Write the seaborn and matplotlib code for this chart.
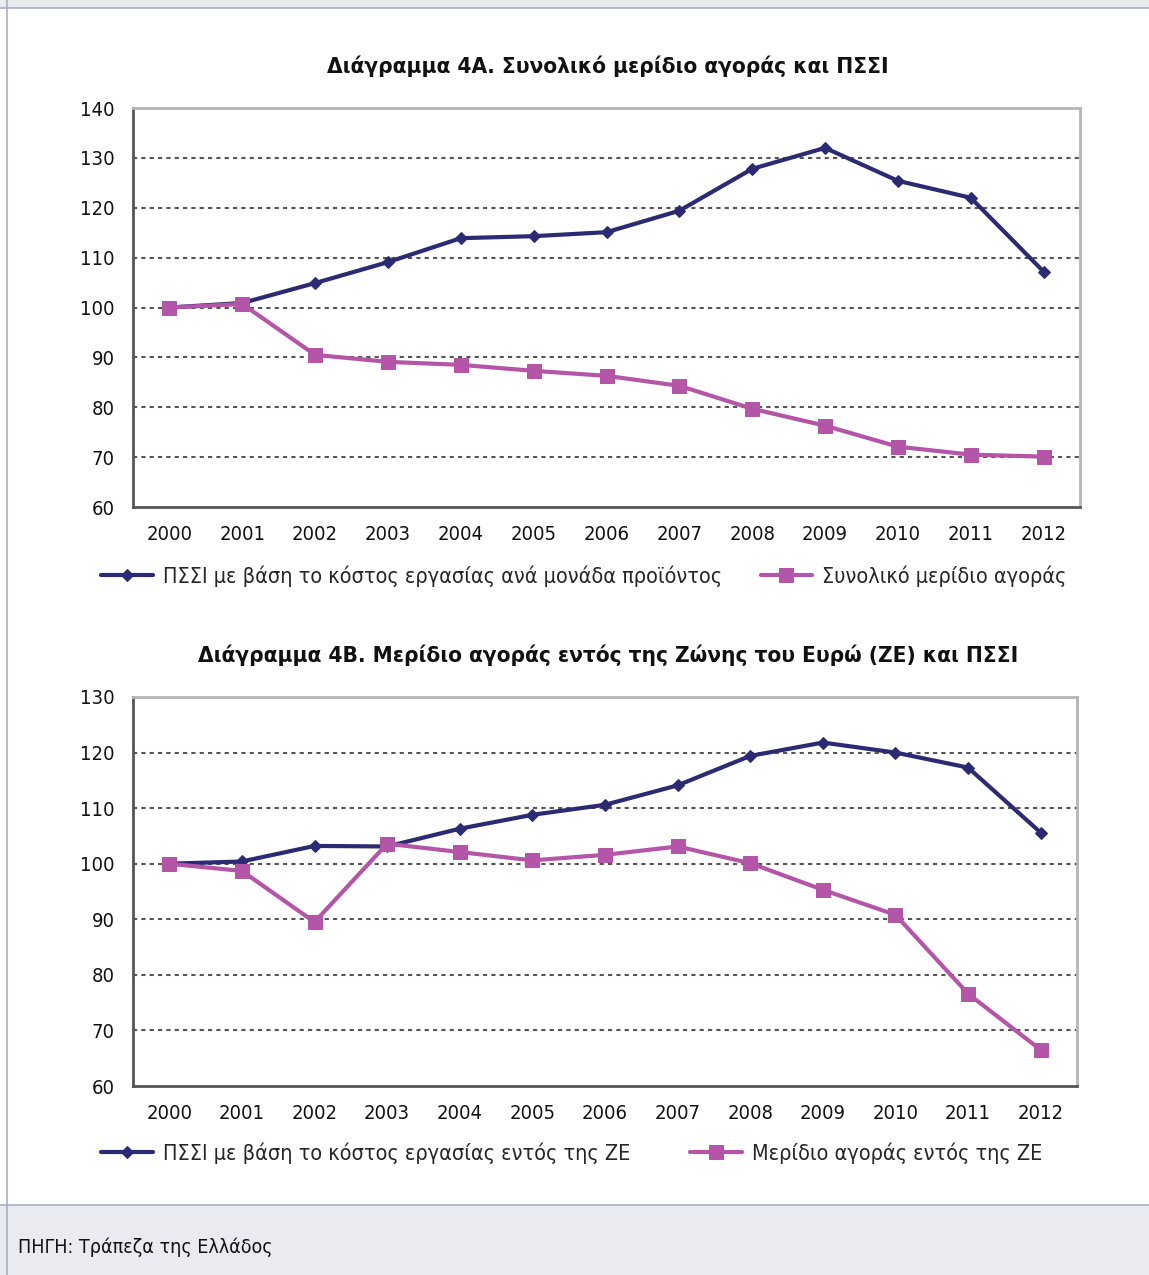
import numpy as np
import pandas as pd
import matplotlib.pyplot as plt
import seaborn as sns
from matplotlib.patches import Rectangle
from matplotlib.lines import Line2D

years = [str(y) for y in range(2000, 2013)]

# Διάγραμμα 4Α
pssi_total = [100, 100.9, 104.9, 109.1, 113.9, 114.3, 115.1, 119.4, 127.8, 132.0, 125.4, 122.0, 107.2]
share_total = [100, 100.7, 90.5, 89.1, 88.5, 87.3, 86.3, 84.3, 79.7, 76.3, 72.1, 70.5, 70.1]

# Διάγραμμα 4Β
pssi_ez = [100, 100.4, 103.2, 103.1, 106.3, 108.8, 110.6, 114.1, 119.4, 121.8, 120.0, 117.3, 105.6]
share_ez = [100, 98.7, 89.5, 103.6, 102.1, 100.6, 101.6, 103.1, 100.1, 95.3, 90.8, 76.6, 66.5]

title_a = "Διάγραμμα 4Α. Συνολικό μερίδιο αγοράς και ΠΣΣΙ"
title_b = "Διάγραμμα 4Β. Μερίδιο αγοράς εντός της Ζώνης του Ευρώ (ΖΕ) και ΠΣΣΙ"
labels_a = ["ΠΣΣΙ με βάση το κόστος εργασίας ανά μονάδα προϊόντος", "Συνολικό μερίδιο αγοράς"]
labels_b = ["ΠΣΣΙ με βάση το κόστος εργασίας εντός της ΖΕ", "Μερίδιο αγοράς εντός της ΖΕ"]
source = "ΠΗΓΗ: Τράπεζα της Ελλάδος"

sns.set_theme(style="white")
plt.rcParams['font.family'] = ['DejaVu Sans']
plt.rcParams['font.stretch'] = 'condensed'

NAVY = "#2b2a72"
PINK = "#b455a8"
W, H = 1149, 1275

fig = plt.figure(figsize=(W / 100, H / 100), dpi=100)
fig.patch.set_facecolor("white")

# frame decorations (top strip, left border, footer)
fig.patches.append(Rectangle((0, 1 - 8 / H), 1, 8 / H, transform=fig.transFigure,
                             facecolor="#e9ebf0", edgecolor="none", zorder=0))
fig.lines.append(Line2D([0, 1], [1 - 8 / H, 1 - 8 / H], transform=fig.transFigure,
                        color="#a7b1c2", lw=1.2))
fig.patches.append(Rectangle((0, 0), 1, 70 / H, transform=fig.transFigure,
                             facecolor="#e9ebf0", edgecolor="none", zorder=0))
fig.lines.append(Line2D([0, 1], [70 / H, 70 / H], transform=fig.transFigure,
                        color="#a7b1c2", lw=1.2))
fig.lines.append(Line2D([7 / W, 7 / W], [0, 1], transform=fig.transFigure,
                        color="#a7b1c2", lw=1.2))


def panel(rect, a, b, labels, ylim, title, title_y, legend_y, colspace):
    left, top, right, bottom = rect
    ax = fig.add_axes([left / W, 1 - bottom / H, (right - left) / W, (bottom - top) / H])
    df = pd.DataFrame({"x": np.arange(len(years)), "a": a, "b": b})
    sns.lineplot(data=df, x="x", y="a", ax=ax, color=NAVY, lw=3, marker="D",
                 markersize=6, markeredgecolor=NAVY, label=labels[0])
    sns.lineplot(data=df, x="x", y="b", ax=ax, color=PINK, lw=3, marker="s",
                 markersize=10, markeredgecolor=PINK, label=labels[1])
    ax.set_xlim(-0.5, len(years) - 0.5)
    ax.set_ylim(*ylim)
    ax.set_yticks(np.arange(ylim[0], ylim[1] + 1, 10))
    ax.set_xticks(np.arange(len(years)))
    ax.set_xticklabels(years)
    ax.set_xticks(np.arange(len(years) + 1) - 0.5, minor=True)
    ax.tick_params(axis="x", which="major", length=0, pad=13, labelsize=14.5, labelcolor="#111111")
    ax.tick_params(axis="x", which="minor", length=7, width=1.5, color="#555555", direction="out")
    ax.tick_params(axis="y", which="major", length=7, width=1.5, color="#555555",
                   direction="out", labelsize=14.5, labelcolor="#111111", pad=6)
    ax.set_xlabel("")
    ax.set_ylabel("")
    for y in ax.get_yticks()[1:-1]:
        ax.axhline(y, color="#555555", lw=1.5, ls=(0, (2, 2)), zorder=1)
    for s in ["left", "bottom"]:
        ax.spines[s].set_color("#555555")
        ax.spines[s].set_linewidth(2)
    for s in ["top", "right"]:
        ax.spines[s].set_color("#b5b5b5")
        ax.spines[s].set_linewidth(2)
    ax.legend_.remove()
    h, l = ax.get_legend_handles_labels()
    fig.legend(h, l, loc="center left", bbox_to_anchor=(97 / W, 1 - legend_y / H),
               ncol=2, frameon=False, fontsize=15.5, columnspacing=colspace, handlelength=2.4,
               handletextpad=0.45, borderpad=0.2, borderaxespad=0)
    fig.text(608 / W, 1 - title_y / H, title, ha="center", va="center",
             fontsize=16.2, fontweight="bold", color="#111111")
    return ax


panel((133, 108, 1080, 507), pssi_total, share_total, labels_a, (60, 140), title_a, 66, 576, 1.8)
panel((133, 697, 1077, 1086), pssi_ez, share_ez, labels_b, (60, 130), title_b, 655, 1153, 2.8)

fig.text(18 / W, 1 - 1247 / H, source, ha="left", va="center", fontsize=14, color="#111111")

fig.savefig("out.png", dpi=100)
